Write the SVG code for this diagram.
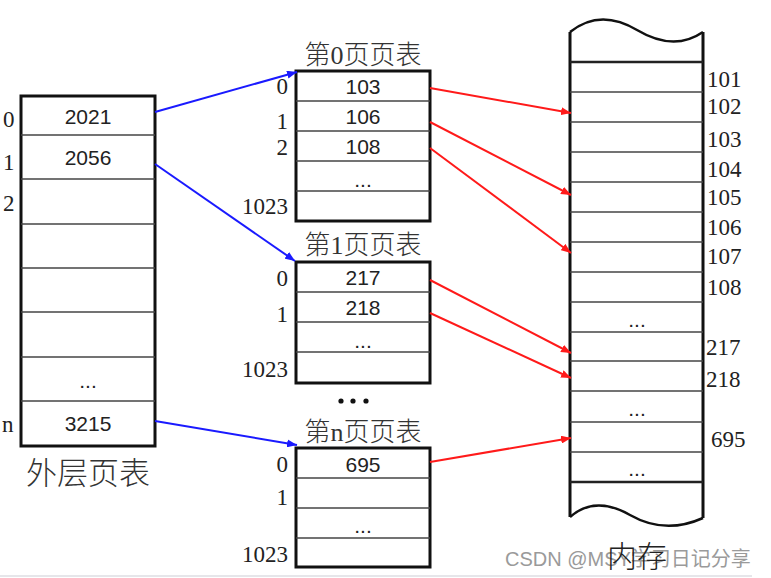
<svg xmlns="http://www.w3.org/2000/svg" width="771" height="578" viewBox="0 0 771 578">
<defs>
<marker id="ab" viewBox="0 0 10 8" refX="10" refY="4" markerWidth="10" markerHeight="8" markerUnits="userSpaceOnUse" orient="auto"><path d="M0,0 L10,4 L0,8 Z" fill="#1a1aff"/></marker>
<marker id="ar" viewBox="0 0 10 8" refX="10" refY="4" markerWidth="10" markerHeight="8" markerUnits="userSpaceOnUse" orient="auto"><path d="M0,0 L10,4 L0,8 Z" fill="#ff1a1a"/></marker>
</defs>
<style>
.box{fill:#fff;stroke:#111;stroke-width:3}
.ln{stroke:#444;stroke-width:1.6}
.v{font-family:"Liberation Sans",Arial,sans-serif;font-size:21px;fill:#222;text-anchor:middle}
.i{font-family:"Liberation Serif","Times New Roman",serif;font-size:23px;fill:#222}
.ir{text-anchor:end}
.t{font-family:"Liberation Serif","Noto Sans CJK SC",serif;font-size:26px;fill:#333;text-anchor:middle;font-weight:300}
.big{font-family:"Noto Sans CJK SC",sans-serif;font-size:31px;fill:#333;text-anchor:middle;font-weight:300}
.blue{stroke:#1a1aff;stroke-width:2;fill:none;marker-end:url(#ab)}
.red{stroke:#ff1a1a;stroke-width:2;fill:none;marker-end:url(#ar)}
</style>
<rect width="771" height="578" fill="#fff"/>

<g id="outer-table">
<rect class="box" x="21" y="96" width="134" height="350"/>
<line class="ln" x1="21" y1="135" x2="155" y2="135"/>
<line class="ln" x1="21" y1="179" x2="155" y2="179"/>
<line class="ln" x1="21" y1="224" x2="155" y2="224"/>
<line class="ln" x1="21" y1="268" x2="155" y2="268"/>
<line class="ln" x1="21" y1="312" x2="155" y2="312"/>
<line class="ln" x1="21" y1="357" x2="155" y2="357"/>
<line class="ln" x1="21" y1="401" x2="155" y2="401"/>
<text class="v" x="88" y="124">2021</text>
<text class="v" x="88" y="165">2056</text>
<text class="v" x="88" y="388">...</text>
<text class="v" x="88" y="431">3215</text>
<text class="i" x="3" y="127">0</text>
<text class="i" x="3" y="170">1</text>
<text class="i" x="3" y="211">2</text>
<text class="i" x="2" y="432">n</text>
<text class="big" x="88" y="484">外层页表</text>
</g>

<g id="page-table-0">
<text class="t" x="363" y="64">第0页页表</text>
<rect class="box" x="296" y="71" width="134" height="150"/>
<line class="ln" x1="296" y1="101" x2="430" y2="101"/>
<line class="ln" x1="296" y1="131" x2="430" y2="131"/>
<line class="ln" x1="296" y1="161" x2="430" y2="161"/>
<line class="ln" x1="296" y1="191" x2="430" y2="191"/>
<text class="v" x="363" y="94">103</text>
<text class="v" x="363" y="124">106</text>
<text class="v" x="363" y="154">108</text>
<text class="v" x="363" y="187">...</text>
<text class="i ir" x="288" y="94">0</text>
<text class="i ir" x="288" y="129">1</text>
<text class="i ir" x="288" y="155">2</text>
<text class="i ir" x="288" y="214">1023</text>
</g>

<g id="page-table-1">
<text class="t" x="363" y="254">第1页页表</text>
<rect class="box" x="296" y="262" width="134" height="121"/>
<line class="ln" x1="296" y1="292" x2="430" y2="292"/>
<line class="ln" x1="296" y1="322" x2="430" y2="322"/>
<line class="ln" x1="296" y1="352" x2="430" y2="352"/>
<text class="v" x="363" y="285">217</text>
<text class="v" x="363" y="315">218</text>
<text class="v" x="363" y="348">...</text>
<text class="i ir" x="288" y="286">0</text>
<text class="i ir" x="288" y="322">1</text>
<text class="i ir" x="288" y="377">1023</text>
</g>

<g id="ellipsis">
<circle cx="341" cy="401" r="2.6" fill="#111"/>
<circle cx="353" cy="401" r="2.6" fill="#111"/>
<circle cx="366" cy="401" r="2.6" fill="#111"/>
</g>

<g id="page-table-n">
<text class="t" x="363" y="441">第n页页表</text>
<rect class="box" x="296" y="448" width="134" height="119"/>
<line class="ln" x1="296" y1="478" x2="430" y2="478"/>
<line class="ln" x1="296" y1="508" x2="430" y2="508"/>
<line class="ln" x1="296" y1="538" x2="430" y2="538"/>
<text class="v" x="363" y="472">695</text>
<text class="v" x="363" y="533">...</text>
<text class="i ir" x="288" y="472">0</text>
<text class="i ir" x="288" y="505">1</text>
<text class="i ir" x="288" y="562">1023</text>
</g>

<g id="memory">
<path d="M570,32 Q600,8 637,30 T703,32" fill="none" stroke="#111" stroke-width="2.5"/>
<path d="M570,517 Q595,495 630,515 T703,518" fill="none" stroke="#111" stroke-width="2.5"/>
<line x1="570" y1="32" x2="570" y2="517" stroke="#111" stroke-width="3"/>
<line x1="703" y1="32" x2="703" y2="518" stroke="#111" stroke-width="3"/>
<line x1="570" y1="62" x2="703" y2="62" stroke="#222" stroke-width="2.5"/>
<line class="ln" x1="570" y1="92" x2="703" y2="92"/>
<line class="ln" x1="570" y1="122" x2="703" y2="122"/>
<line class="ln" x1="570" y1="152" x2="703" y2="152"/>
<line class="ln" x1="570" y1="182" x2="703" y2="182"/>
<line class="ln" x1="570" y1="212" x2="703" y2="212"/>
<line class="ln" x1="570" y1="242" x2="703" y2="242"/>
<line class="ln" x1="570" y1="272" x2="703" y2="272"/>
<line class="ln" x1="570" y1="302" x2="703" y2="302"/>
<line class="ln" x1="570" y1="332" x2="703" y2="332"/>
<line class="ln" x1="570" y1="361" x2="703" y2="361"/>
<line class="ln" x1="570" y1="391" x2="703" y2="391"/>
<line class="ln" x1="570" y1="422" x2="703" y2="422"/>
<line class="ln" x1="570" y1="452" x2="703" y2="452"/>
<line x1="570" y1="482" x2="703" y2="482" stroke="#222" stroke-width="2.5"/>
<text class="v" x="637" y="327">...</text>
<text class="v" x="637" y="416">...</text>
<text class="v" x="637" y="476">...</text>
<text class="i" x="707" y="87">101</text>
<text class="i" x="707" y="114">102</text>
<text class="i" x="707" y="147">103</text>
<text class="i" x="707" y="177">104</text>
<text class="i" x="707" y="205">105</text>
<text class="i" x="707" y="235">106</text>
<text class="i" x="707" y="264">107</text>
<text class="i" x="707" y="295">108</text>
<text class="i" x="706" y="355">217</text>
<text class="i" x="706" y="387">218</text>
<text class="i" x="711" y="447">695</text>
</g>

<g id="connectors">
<line class="blue" x1="155" y1="112" x2="297" y2="72"/>
<line class="blue" x1="155" y1="164" x2="295" y2="261"/>
<line class="blue" x1="155" y1="421" x2="297" y2="445"/>
<line class="red" x1="430" y1="88" x2="571" y2="113"/>
<line class="red" x1="430" y1="122" x2="571" y2="195"/>
<line class="red" x1="430" y1="148" x2="571" y2="253"/>
<line class="red" x1="430" y1="280" x2="571" y2="353"/>
<line class="red" x1="430" y1="313" x2="571" y2="378"/>
<line class="red" x1="430" y1="462" x2="571" y2="438"/>
</g>

<g id="footer">
<text x="505" y="566" font-family="'Liberation Sans','Noto Sans CJK SC',sans-serif" font-size="20" fill="#9a9a9a">CSDN @MSY学习日记分享</text>
<text class="big" x="637" y="567" style="font-size:30px;fill:#222">内存</text>
<line x1="0" y1="576" x2="752" y2="576" stroke="#e6e6ea" stroke-width="2"/>
</g>
</svg>
